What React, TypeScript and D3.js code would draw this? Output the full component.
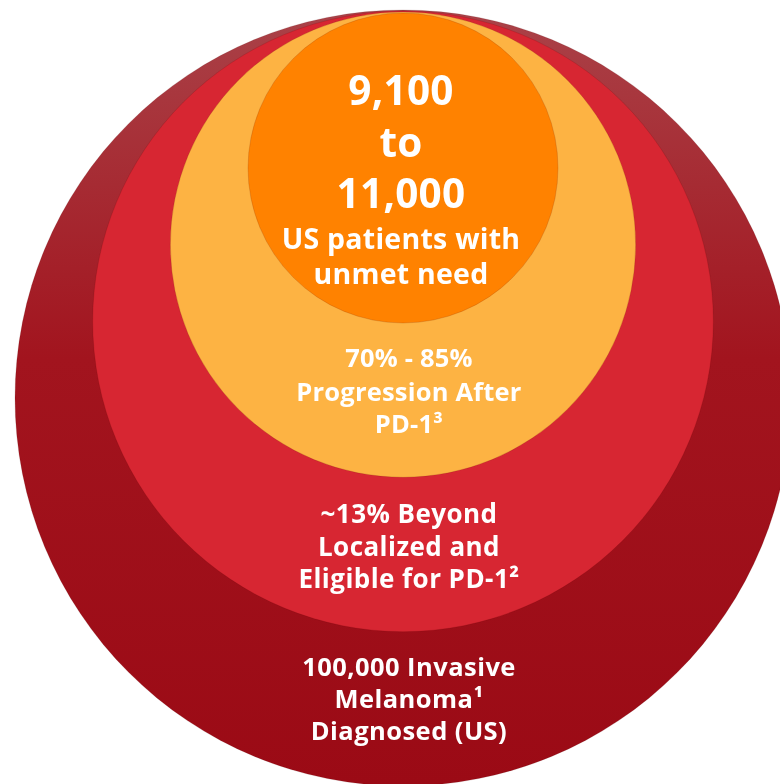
import React from "react";
import * as d3 from "d3";

// ---- data ----
const levelNames = ["Invasive melanoma", "Beyond localized", "Progression after PD-1", "Unmet need"];
const levelColors = ["url(#outerGrad)", "#D72632", "#FDB343", "#FF8200"];
const levelLines: string[][] = [
  ["100,000 Invasive", "Melanoma\u00B9", "Diagnosed (US)"],
  ["~13% Beyond", "Localized and", "Eligible for PD-1\u00B2"],
  ["70% - 85%", "Progression After", "PD-1\u00B3"],
  ["9,100", "to", "11,000", "US patients with", "unmet need"],
];
const lineSizes: number[][] = [
  [25.5, 25.5, 25.5],
  [26, 26, 26],
  [25.5, 25.5, 25.5],
  [40.5, 40.5, 40.5, 28.5, 28.5],
];
const lineBaselines: number[][] = [
  [676, 708, 740],
  [523, 555.5, 588],
  [367, 401, 433],
  [105, 157, 207.5, 249, 284],
];
const textCenters = [409, 409, 409, 401];
const textSpacing = [0.45, 0.45, 0.2, 0.25];

const W = 780;
const H = 784;
const cx = 403;
const topY = 10;

export default function App() {
  const rScale = d3.scaleLinear().domain([0, levelNames.length - 1]).range([388, 155]);

  return (
    <div style={{ position: "fixed", left: 0, top: 0 }}>
      <svg width={W} height={H} viewBox={`0 0 ${W} ${H}`} style={{ display: "block" }}>
        <defs>
          <linearGradient id="outerGrad" x1="0" y1="0" x2="0" y2="1">
            <stop offset="0" stopColor="#AA4248" />
            <stop offset="0.45" stopColor="#A2141E" />
            <stop offset="1" stopColor="#9B0A15" />
          </linearGradient>
        </defs>
        {levelNames.map((name, i) => {
          const r = rScale(i);
          return (
            <circle
              key={name}
              cx={cx}
              cy={topY + r + i * 1}
              r={r}
              fill={levelColors[i]}
              stroke="rgba(80,0,0,0.18)"
              strokeWidth={0.8}
            />
          );
        })}
        {levelLines.map((lines, i) => (
          <text
            key={"t" + i}
            fill="#FFFFFF"
            fontFamily="'Open Sans', sans-serif"
            fontWeight={700}
            textAnchor="middle"
            letterSpacing={textSpacing[i]}
          >
            {lines.map((line, j) => (
              <tspan key={j} x={textCenters[i]} y={lineBaselines[i][j]} fontSize={lineSizes[i][j]}>
                {line}
              </tspan>
            ))}
          </text>
        ))}
      </svg>
    </div>
  );
}
